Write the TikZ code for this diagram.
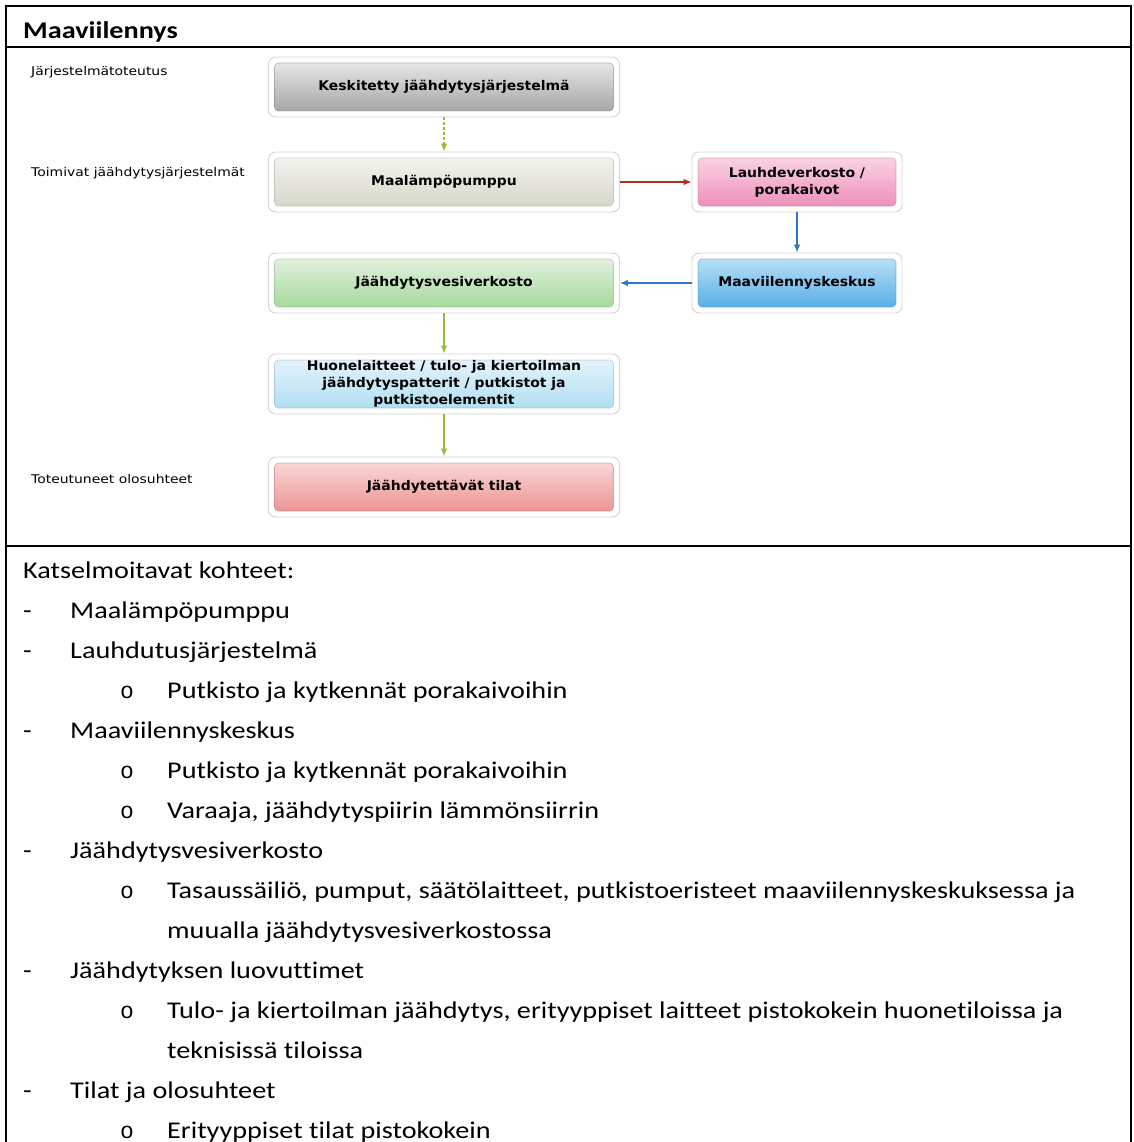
\documentclass[tikz,border=0pt]{standalone}
\usepackage{fontspec}
\setmainfont{Carlito}[FakeStretch=1.175,Ligatures=NoCommon]
\newfontfamily\verdana{DejaVu Sans}[FakeStretch=1.05]
\newfontfamily\verdanaleve{DejaVu Sans}[FakeStretch=1.16]
\newfontfamily\courier{Liberation Mono}
\usetikzlibrary{arrows.meta,calc}

\definecolor{harmaaA}{HTML}{E6E6E6}
\definecolor{harmaaB}{HTML}{A6A6A6}
\definecolor{beigeA}{HTML}{F4F4EF}
\definecolor{beigeB}{HTML}{D6D6CA}
\definecolor{roosaA}{HTML}{F9D2E3}
\definecolor{roosaB}{HTML}{EE90B9}
\definecolor{siniA}{HTML}{B7DFF7}
\definecolor{siniB}{HTML}{58AFE6}
\definecolor{vihreaA}{HTML}{E0F2DC}
\definecolor{vihreaB}{HTML}{A6D99B}
\definecolor{vaaleaA}{HTML}{E3F3FB}
\definecolor{vaaleaB}{HTML}{B1DFF3}
\definecolor{punaA}{HTML}{F9D6D6}
\definecolor{punaB}{HTML}{EC9494}
\definecolor{nuoliVihrea}{HTML}{9BBB3B}
\definecolor{nuoliPuna}{HTML}{A8301F}
\definecolor{nuoliSini}{HTML}{2A78C2}

\tikzset{
  kehys/.style={draw=black!17,line width=0.9pt,fill=white,rounded corners=7pt,
    minimum height=60pt,inner sep=0pt},
  laatikko/.style 2 args={rounded corners=4pt,minimum height=48pt,
    inner sep=0pt,top color=#1,bottom color=#2,draw=#2!75!black,draw opacity=0.45,
    line width=0.7pt,align=center,font=\verdana\bfseries\fontsize{13.3}{17}\selectfont},
  nuoli/.style={-{Latex[length=8pt,width=6.5pt]},line width=1.2pt},
  vaihe/.style={anchor=base west,inner sep=0pt,font=\verdanaleve\fontsize{12}{14}\selectfont},
  leipa/.style={anchor=base west,inner sep=0pt,font=\fontsize{24}{29}\selectfont},
  pallo/.style={leipa,font=\courier\fontsize{23}{29}\selectfont}
}

\newcommand{\piirraLaatikko}[7][351]{% leveys; nimi, keskipiste x,y, ylavari, alavari, teksti
  \node[kehys,minimum width=#1pt] (#2-k) at (#3,#4) {};
  \node[laatikko={#5}{#6},minimum width=#1pt-12pt] (#2) at (#3,#4) {#7};
}

\begin{document}
\begin{tikzpicture}[x=1pt,y=-1pt]
\useasboundingbox (0,0) rectangle (1133,1142);

% Taulukon reunat
\draw[line width=2.5pt] (6,1142) -- (6,6) -- (1131,6) -- (1131,1142);
\draw[line width=2.5pt] (6,47) -- (1131,47);
\draw[line width=2.5pt] (6,546) -- (1131,546);
\node[anchor=base west,inner sep=0pt,font=\bfseries\fontsize{24}{29}\selectfont] (otsikko) at (23,39) {Maaviilennys};

% Vaiheet vasemmalla
\node[vaihe] (toteutus) at (31,76) {Järjestelmätoteutus};
\node[vaihe] (toimivat) at (31,176) {Toimivat jäähdytysjärjestelmät};
\node[vaihe] (toteutuneet) at (31,483) {Toteutuneet olosuhteet};

% Laatikot
\piirraLaatikko{keskitetty}{444}{87}{harmaaA}{harmaaB}{Keskitetty jäähdytysjärjestelmä}
\piirraLaatikko{pumppu}{444}{182}{beigeA}{beigeB}{Maalämpöpumppu}
\piirraLaatikko[210]{lauhde}{797}{182}{roosaA}{roosaB}{Lauhdeverkosto /\\porakaivot}
\piirraLaatikko[210]{keskus}{797}{283}{siniA}{siniB}{Maaviilennyskeskus}
\piirraLaatikko{vesiverkko}{444}{283}{vihreaA}{vihreaB}{Jäähdytysvesiverkosto}
\piirraLaatikko{huone}{444}{384}{vaaleaA}{vaaleaB}{Huonelaitteet / tulo- ja kiertoilman\\jäähdytyspatterit / putkistot ja\\putkistoelementit}
\piirraLaatikko{tilat}{444}{487}{punaA}{punaB}{Jäähdytettävät tilat}

% Nuolet
\draw[nuoli,nuoliVihrea,dash pattern=on 3pt off 2pt] (keskitetty-k) -- (pumppu-k);
\draw[nuoli,nuoliPuna] (pumppu-k) -- (lauhde-k);
\draw[nuoli,nuoliSini] (lauhde-k) -- (keskus-k);
\draw[nuoli,nuoliSini] (keskus-k) -- (vesiverkko-k);
\draw[nuoli,nuoliVihrea] (vesiverkko-k) -- (huone-k);
\draw[nuoli,nuoliVihrea] (huone-k) -- (tilat-k);

% Katselmoitavat kohteet
\node[leipa] (kohteet) at (23,578) {Katselmoitavat kohteet:};
\node[leipa] (v1) at (23,618) {-};
\node[leipa] (k1) at (70,618) {Maalämpöpumppu};
\node[leipa] (v2) at (23,658) {-};
\node[leipa] (k2) at (70,658) {Lauhdutusjärjestelmä};
\node[pallo] (p1) at (120,698) {o};
\node[leipa] (a1) at (167,698) {Putkisto ja kytkennät porakaivoihin};
\node[leipa] (v3) at (23,738) {-};
\node[leipa] (k3) at (70,738) {Maaviilennyskeskus};
\node[pallo] (p2) at (120,778) {o};
\node[leipa] (a2) at (167,778) {Putkisto ja kytkennät porakaivoihin};
\node[pallo] (p3) at (120,818) {o};
\node[leipa] (a3) at (167,818) {Varaaja, jäähdytyspiirin lämmönsiirrin};
\node[leipa] (v4) at (23,858) {-};
\node[leipa] (k4) at (70,858) {Jäähdytysvesiverkosto};
\node[pallo] (p4) at (120,898) {o};
\node[leipa] (a4) at (167,898) {Tasaussäiliö, pumput, säätölaitteet, putkistoeristeet maaviilennyskeskuksessa ja};
\node[leipa] (a4b) at (167,938) {muualla jäähdytysvesiverkostossa};
\node[leipa] (v5) at (23,978) {-};
\node[leipa] (k5) at (70,978) {Jäähdytyksen luovuttimet};
\node[pallo] (p5) at (120,1018) {o};
\node[leipa] (a5) at (167,1018) {Tulo- ja kiertoilman jäähdytys, erityyppiset laitteet pistokokein huonetiloissa ja};
\node[leipa] (a5b) at (167,1058) {teknisissä tiloissa};
\node[leipa] (v6) at (23,1098) {-};
\node[leipa] (k6) at (70,1098) {Tilat ja olosuhteet};
\node[pallo] (p6) at (120,1138) {o};
\node[leipa] (a6) at (167,1138) {Erityyppiset tilat pistokokein};
\end{tikzpicture}
\end{document}
